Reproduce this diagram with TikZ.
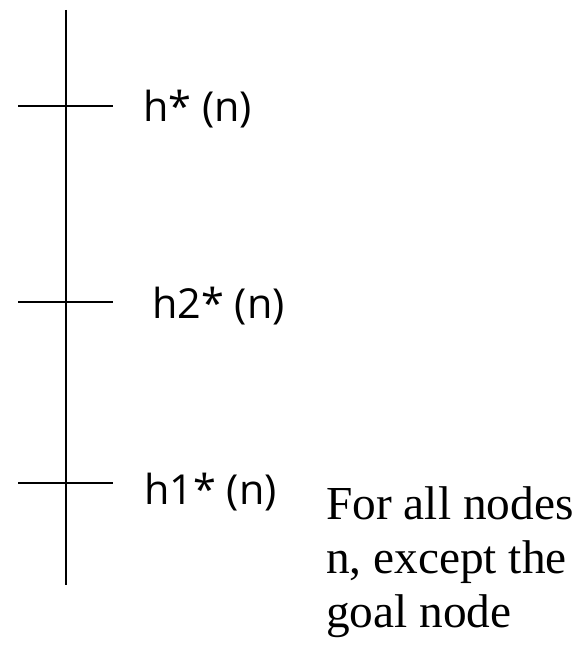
\documentclass[tikz,border=0pt]{standalone}
\usepackage{fontspec}
\setmainfont{Liberation Serif}
\newfontfamily\labelfont{Open Sans}
\usetikzlibrary{positioning}

\begin{document}
\begin{tikzpicture}[x=0.75pt, y=-0.75pt,
    axis/.style={line width=1.3pt},
    hlabel/.style={anchor=base west, inner sep=0pt, font=\labelfont\fontsize{31}{36}\selectfont},
    note/.style={anchor=base west, inner sep=0pt, align=left, font=\fontsize{35.5}{40.5}\selectfont}]
  \useasboundingbox (0,0) rectangle (581,645);
  % vertical scale
  \coordinate (top) at (66,10);
  \coordinate (bottom) at (66,585);
  \draw[axis] (top) -- (bottom);
  % ticks with their labels
  \foreach \name/\y/\lx/\by/\txt in {hstar/106/143/122/{h* (n)}, htwo/302/152/318/{h2* (n)}, hone/483/144/504/{h1* (n)}} {
    \coordinate (\name-l) at (18,\y);
    \coordinate (\name-r) at (113,\y);
    \draw[axis] (\name-l) -- (\name-r);
    \node[hlabel] (\name) at (\lx,\by) {\txt};
  }
  % side note (base is the last line)
  \node[note] (note) at (326,627) {For all nodes\\n, except the\\goal node};
\end{tikzpicture}
\end{document}
